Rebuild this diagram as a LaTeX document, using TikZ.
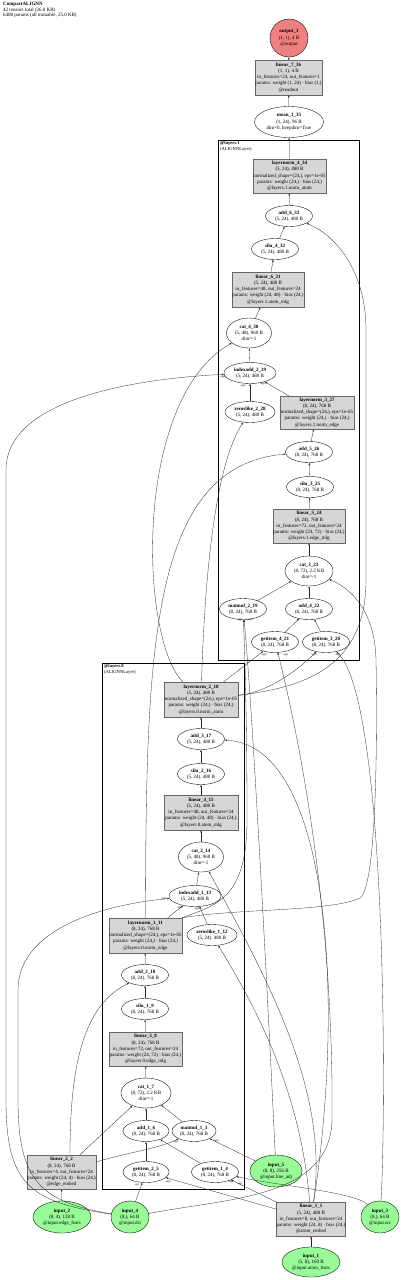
\documentclass[tikz,border=0pt]{standalone}
\usepackage{fontspec}
\setmainfont{Liberation Serif}
\usetikzlibrary{shapes.geometric,arrows.meta}
\definecolor{modgray}{HTML}{D6D6D6}
\definecolor{ingreen}{HTML}{98FB98}
\definecolor{outred}{HTML}{F08080}
\begin{document}
\begin{tikzpicture}[x=1pt,y=-1pt,
  every node/.style={font=\fontsize{5}{6.2}\selectfont, align=center, inner sep=0pt},
  op/.style={ellipse, draw, line width=0.35pt, fill=white, minimum width=47pt, minimum height=21pt},
  mod/.style={rectangle, draw=black!60, line width=0.35pt, fill=modgray},
  inp/.style={ellipse, draw, line width=0.35pt, fill=ingreen},
  outp/.style={ellipse, draw, line width=0.35pt, fill=outred},
  cluster/.style={rectangle, draw, line width=1.4pt, anchor=north west},
  clab/.style={anchor=north west, align=left, font=\fontsize{4.6}{5.4}\selectfont},
  conn/.style={-{Latex[length=2.2pt,width=1.7pt]}, line width=0.3pt, draw=black!85},
  elab/.style={font=\fontsize{2.8}{3}\selectfont}
]
\fill[white] (0,0) rectangle (400,1280);
\useasboundingbox (0,0) rectangle (400,1280);

\node[anchor=north west, align=left, font=\fontsize{5}{5.6}\selectfont] (title) at (3,2)
 {\textbf{CompactALIGNN}\\42 tensors total (26.0 KB)\\6408 params (all trainable, 25.0 KB)};

% clusters
\node[cluster, minimum width=141pt, minimum height=520pt] (c1) at (218,140) {};
\node[clab] (c1lab) at (220,141.5) {\textbf{@layers.1}\\(ALIGNNLayer)};
\node[cluster, minimum width=142pt, minimum height=526pt] (c0) at (102,663) {};
\node[clab] (c0lab) at (104,664.5) {\textbf{@layers.0}\\(ALIGNNLayer)};

% top
\node[outp, minimum width=38pt, minimum height=38pt] (out1) at (289,38) {\textbf{output\_1}\\(1, 1), 4 B\\@output};
\node[mod, minimum width=67pt, minimum height=35pt] (l736) at (288.5,77.5) {\textbf{linear\_7\_36}\\(1, 1), 4 B\\in\_features=24, out\_features=1\\params: weight (1, 24) · bias (1,)\\@readout};
\node[op, minimum width=69pt, minimum height=31pt] (mean135) at (289,122) {\textbf{mean\_1\_35}\\(1, 24), 96 B\\dim=0, keepdim=True};

% layer 1
\node[mod, minimum width=73pt, minimum height=34pt] (ln434) at (289.5,176) {\textbf{layernorm\_4\_34}\\(5, 24), 480 B\\normalized\_shape=(24,), eps=1e-05\\params: weight (24,) · bias (24,)\\@layers.1.norm\_atom};
\node[op] (a633) at (289,216) {\textbf{add\_6\_33}\\(5, 24), 480 B};
\node[op] (s432) at (275,249) {\textbf{silu\_4\_32}\\(5, 24), 480 B};
\node[mod, minimum width=72pt, minimum height=35pt] (l631) at (268,289.5) {\textbf{linear\_6\_31}\\(5, 24), 480 B\\in\_features=48, out\_features=24\\params: weight (24, 48) · bias (24,)\\@layers.1.atom\_mlg};
\node[op, minimum width=45pt, minimum height=30pt] (cat430) at (249,333) {\textbf{cat\_4\_30}\\(5, 48), 960 B\\dim=-1};
\node[op, minimum width=52pt] (ia229) at (250,373) {\textbf{indexadd\_2\_29}\\(5, 24), 480 B};
\node[op, minimum width=50pt] (zl228) at (250,412) {\textbf{zeroslike\_2\_28}\\(5, 24), 480 B};
\node[mod, minimum width=74pt, minimum height=33pt] (ln327) at (317,412.5) {\textbf{layernorm\_3\_27}\\(8, 24), 768 B\\normalized\_shape=(24,), eps=1e-05\\params: weight (24,) · bias (24,)\\@layers.1.norm\_edge};
\node[op] (a526) at (309,452) {\textbf{add\_5\_26}\\(8, 24), 768 B};
\node[op] (s325) at (310,487) {\textbf{silu\_3\_25}\\(8, 24), 768 B};
\node[mod, minimum width=72pt, minimum height=34pt] (l524) at (309,526) {\textbf{linear\_5\_24}\\(8, 24), 768 B\\in\_features=72, out\_features=24\\params: weight (24, 72) · bias (24,)\\@layers.1.edge\_mlg};
\node[op, minimum width=48pt, minimum height=30pt] (cat323) at (309,571) {\textbf{cat\_3\_23}\\(8, 72), 2.2 KB\\dim=-1};
\node[op] (mm219) at (243,609) {\textbf{matmul\_2\_19}\\(8, 24), 768 B};
\node[op] (a422) at (309,609) {\textbf{add\_4\_22}\\(8, 24), 768 B};
\node[op] (gi421) at (275,642) {\textbf{getitem\_4\_21}\\(8, 24), 768 B};
\node[op] (gi320) at (326,642) {\textbf{getitem\_3\_20}\\(8, 24), 768 B};

% layer 0
\node[mod, minimum width=74pt, minimum height=35pt] (ln218) at (201,699.5) {\textbf{layernorm\_2\_18}\\(5, 24), 480 B\\normalized\_shape=(24,), eps=1e-05\\params: weight (24,) · bias (24,)\\@layers.0.norm\_atom};
\node[op] (a317) at (201,739) {\textbf{add\_3\_17}\\(5, 24), 480 B};
\node[op] (s216) at (201,774) {\textbf{silu\_2\_16}\\(5, 24), 480 B};
\node[mod, minimum width=74pt, minimum height=35pt] (l415) at (201,812.5) {\textbf{linear\_4\_15}\\(5, 24), 480 B\\in\_features=48, out\_features=24\\params: weight (24, 48) · bias (24,)\\@layers.0.atom\_mlg};
\node[op, minimum width=45pt, minimum height=30pt] (cat214) at (201,857) {\textbf{cat\_2\_14}\\(5, 48), 960 B\\dim=-1};
\node[op, minimum width=52pt] (ia113) at (195,896) {\textbf{indexadd\_1\_13}\\(5, 24), 480 B};
\node[mod, minimum width=73pt, minimum height=35pt] (ln111) at (145.5,935.5) {\textbf{layernorm\_1\_11}\\(8, 24), 768 B\\normalized\_shape=(24,), eps=1e-05\\params: weight (24,) · bias (24,)\\@layers.0.norm\_edge};
\node[op, minimum width=50pt] (zl112) at (212,935) {\textbf{zeroslike\_1\_12}\\(5, 24), 480 B};
\node[op] (a210) at (145,975) {\textbf{add\_2\_10}\\(8, 24), 768 B};
\node[op] (s19) at (145,1009) {\textbf{silu\_1\_9}\\(8, 24), 768 B};
\node[mod, minimum width=73pt, minimum height=34pt] (l38) at (145.5,1049) {\textbf{linear\_3\_8}\\(8, 24), 768 B\\in\_features=72, out\_features=24\\params: weight (24, 72) · bias (24,)\\@layers.0.edge\_mlg};
\node[op, minimum width=50pt, minimum height=30pt] (cat17) at (146,1093) {\textbf{cat\_1\_7}\\(8, 72), 2.2 KB\\dim=-1};
\node[op, minimum width=46pt] (a16) at (146,1131) {\textbf{add\_1\_6}\\(8, 24), 768 B};
\node[op, minimum width=44pt] (mm13) at (194,1131) {\textbf{matmul\_1\_3}\\(8, 24), 768 B};
\node[op, minimum width=46pt] (gi25) at (146,1172) {\textbf{getitem\_2\_5}\\(8, 24), 768 B};
\node[op] (gi14) at (215,1172) {\textbf{getitem\_1\_4}\\(8, 24), 768 B};

% inputs and embeddings
\node[mod, minimum width=69pt, minimum height=34pt] (l22) at (61.5,1172) {\textbf{linear\_2\_2}\\(8, 24), 768 B\\in\_features=4, out\_features=24\\params: weight (24, 4) · bias (24,)\\@edge\_embed};
\node[inp, minimum width=58pt, minimum height=32pt] (in2) at (62,1217) {\textbf{input\_2}\\(8, 4), 128 B\\@input.edge\_feats};
\node[inp, minimum width=38pt, minimum height=32pt] (in4) at (130,1217) {\textbf{input\_4}\\(8,), 64 B\\@input.dst};
\node[inp, minimum width=52pt, minimum height=32pt] (in5) at (276,1171) {\textbf{input\_5}\\(8, 8), 256 B\\@input.line\_adj};
\node[mod, minimum width=68pt, minimum height=34pt] (l11) at (311,1219) {\textbf{linear\_1\_1}\\(5, 24), 480 B\\in\_features=8, out\_features=24\\params: weight (24, 8) · bias (24,)\\@atom\_embed};
\node[inp, minimum width=38pt, minimum height=32pt] (in3) at (380,1217) {\textbf{input\_3}\\(8,), 64 B\\@input.src};
\node[inp, minimum width=58pt, minimum height=30pt] (in1) at (311,1262) {\textbf{input\_1}\\(5, 8), 160 B\\@input.atom\_feats};

% ---- edges layer 0
\draw[conn] (in1) -- (l11);
\draw[conn] (in2) -- (l22);
\draw[conn] (l22) -- (cat17);
\draw[conn] (l22) .. controls (130,1152) and (160,1148) .. (mm13);
\draw[conn] (in5) -- (mm13);
\draw[conn] (l11) -- (gi14);
\draw[conn] (in3) .. controls (355,1192) and (280,1186) .. (gi14);
\draw[conn] (l11) -- (gi25);
\draw[conn] (in4) -- (gi25);
\draw[conn] (gi25) -- (a16);
\draw[conn] (gi14) -- (a16);
\draw[conn] (a16) -- (cat17);
\draw[conn] (mm13) -- (cat17);
\draw[conn] (cat17) -- (l38);
\draw[conn] (l38) -- (s19);
\draw[conn] (s19) -- (a210);
\draw[conn] ([xshift=8.5pt]l22.north) .. controls (70,1060) and (85,1005) .. (a210);
\draw[conn] (a210) -- (ln111);
\draw[conn] (l11) .. controls (300,1080) and (245,990) .. (zl112);
\draw[conn] (zl112) -- (ia113);
\draw[conn] (ln111) -- (ia113);
\draw[conn] (in4) .. controls (40,1202) and (18,1180) .. (18,1100) -- (18,990) .. controls (18,930) and (100,905) .. (ia113);
\draw[conn] (ia113) -- (cat214);
\draw[conn] (l11) .. controls (330,1090) and (265,975) .. (cat214);
\draw[conn] (cat214) -- (l415);
\draw[conn] (l415) -- (s216);
\draw[conn] (s216) -- (a317);
\draw[conn] (l11) .. controls (345,1000) and (330,745) .. (a317);
\draw[conn] (a317) -- (ln218);

% ---- edges layer 1
\draw[conn] (in5) .. controls (268,1000) and (252,700) .. (mm219);
\draw[conn] (ln111.north east) .. controls (215,905) and (247,900) .. (247,820) .. controls (247,720) and (245,660) .. (mm219);
\draw[conn] (ln218) -- (gi421);
\draw[conn] (in4) .. controls (230,1198) and (330,1198) .. (332,1120) .. controls (334,900) and (295,720) .. (gi421);
\draw[conn] (ln218) .. controls (270,692) and (300,668) .. (gi320);
\draw[conn] (in3) .. controls (386,1120) and (388,700) .. (gi320);
\draw[conn] (gi421) -- (a422);
\draw[conn] (gi320) -- (a422);
\draw[conn] (mm219) -- (cat323);
\draw[conn] (a422) -- (cat323);
\draw[conn] (ln111.north east) .. controls (240,908) and (330,912) .. (360,898) .. controls (378,885) and (377,720) .. (376,660) .. controls (375,610) and (350,588) .. (cat323);
\draw[conn] (cat323) -- (l524);
\draw[conn] (l524) -- (s325);
\draw[conn] (s325) -- (a526);
\draw[conn] (ln111) .. controls (146,650) and (150,466) .. (a526);
\draw[conn] (a526) -- (ln327);
\draw[conn] (ln218) .. controls (204,600) and (212,470) .. (zl228);
\draw[conn] (zl228) -- (ia229);
\draw[conn] (ln327) -- (ia229);
\draw[conn] (in4) .. controls (30,1202) and (6,1185) .. (6,1100) -- (6,470) .. controls (6,395) and (150,378) .. (ia229);
\draw[conn] (ia229) -- (cat430);
\draw[conn] (ln218) .. controls (140,640) and (132,400) .. (cat430);
\draw[conn] (cat430) -- (l631);
\draw[conn] (l631) -- (s432);
\draw[conn] (s432) -- (a633);
\draw[conn] (ln218) .. controls (300,688) and (366,670) .. (366,580) -- (366,330) .. controls (366,270) and (335,235) .. (a633);
\draw[conn] (a633) -- (ln434);
\draw[conn] (ln434) -- (mean135);
\draw[conn] (mean135) -- (l736);
\draw[conn] (l736) -- (out1);

% ---- edge labels
\node[elab] (lb1) at (176,1141.5) {arg1};
\node[elab] (lb2) at (216,1140.5) {arg0};
\node[elab] (lb3) at (168,1182) {arg0};
\node[elab] (lb4) at (137,1185) {arg1};
\node[elab] (lb5) at (231,1182) {arg0};
\node[elab] (lb6) at (240,1183.5) {arg1};
\node[elab] (lb7) at (164,899) {arg2};
\node[elab] (lb8) at (180,908) {arg3};
\node[elab] (lb9) at (197,909) {arg0};
\node[elab] (lb10) at (240,620) {arg1};
\node[elab] (lb11) at (250,620) {arg0};
\node[elab] (lb12) at (264,655) {arg0};
\node[elab] (lb13) at (286,655) {arg1};
\node[elab] (lb14) at (314,655) {arg0};
\node[elab] (lb15) at (338,655) {arg1};
\node[elab] (lb16) at (223,377) {arg2};
\node[elab] (lb17) at (243,386) {arg0};
\node[elab] (lb18) at (263,384) {arg3};
\end{tikzpicture}
\end{document}
